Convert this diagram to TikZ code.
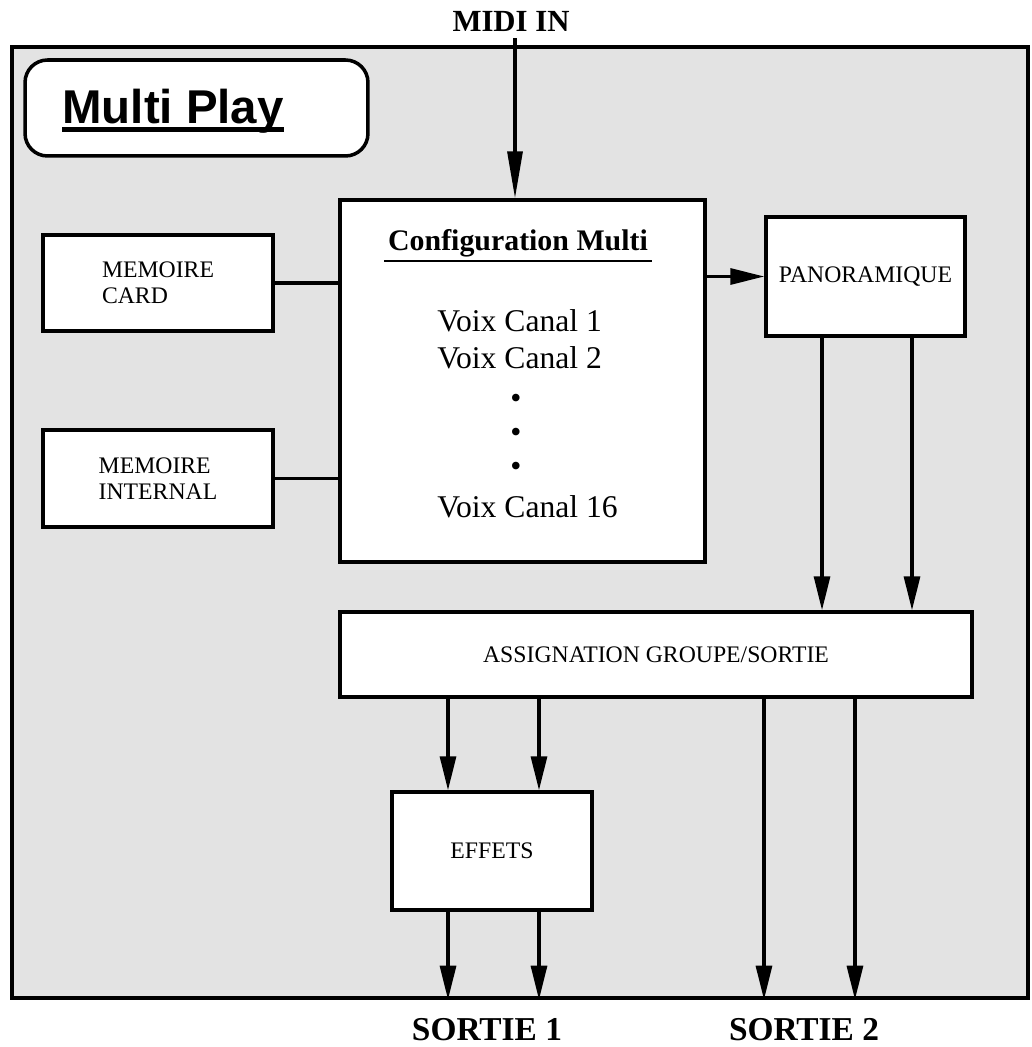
\documentclass[tikz,border=0pt]{standalone}
\usepackage{fontspec}
\setmainfont{Liberation Serif}
\newfontfamily\helv{Liberation Sans}
\usetikzlibrary{arrows.meta,shapes,positioning}

\begin{document}
\begin{tikzpicture}[x=0.02cm,y=-0.02cm,>={Triangle[length=0.68cm,width=0.32cm]}]

	\tikzstyle{rect}=[
		rectangle,
		line width=2pt,
		draw=black,
		fill=white,
		inner sep=0pt
	]
	\tikzstyle{post}=[->,line width=1.8pt]
	\tikzstyle{wire}=[line width=1.8pt]
	\tikzstyle{lbl}=[font=\fontsize{13.5}{14.8}\selectfont]
	\tikzstyle{big}=[font=\fontsize{18}{20}\selectfont, inner sep=0pt]

	\useasboundingbox (0,0) rectangle (1031,1047);

	% frame
	\node [rect, fill=black!11, minimum width=20.32cm, minimum height=19.02cm] (F) at (520,522.5) {};

	\node [rect, rounded corners=0.45cm, minimum width=6.86cm, minimum height=1.92cm] (MP) at (196.5,108) {};
	\node [anchor=base west, inner sep=0pt, font=\helv\bfseries\fontsize{27}{30}\selectfont] (T) at (62,124) {Multi Play};
	\draw [line width=2.3pt] ([yshift=-0.11cm]T.base west) -- ([yshift=-0.11cm]T.base east);

	\node [anchor=base, font=\bfseries\fontsize{17.5}{20}\selectfont] (MIDI) at (511,32) {MIDI IN};

	\node [rect, minimum width=7.3cm, minimum height=7.24cm] (CFG) at (522.5,381) {};
	\node [anchor=base, inner sep=0pt, font=\bfseries\fontsize{17}{20}\selectfont] (CT) at (518,251) {Configuration Multi};
	\draw [line width=1pt] ([yshift=-0.2cm,xshift=-2pt]CT.base west) -- ([yshift=-0.2cm,xshift=2pt]CT.base east);
	\node [big, anchor=base west] (V1) at (437,332) {Voix Canal 1};
	\node [big, anchor=base west] (V2) at (437,368) {Voix Canal 2};
	\foreach \y/\n in {401/1,435/2,469/3}
		\node [big] (D\n) at (516,\y) {\textbullet};
	\node [big, anchor=base west] (V16) at (437,517) {Voix Canal 16};

	\node [rect, lbl, align=left, minimum width=4.6cm, minimum height=1.92cm] (MC) at (158,283) {MEMOIRE\\CARD};
	\node [rect, lbl, align=left, minimum width=4.6cm, minimum height=1.94cm] (MI) at (158,478.5) {MEMOIRE\\INTERNAL};

	\node [rect, lbl, minimum width=3.98cm, minimum height=2.38cm] (PAN) at (865.5,276.5) {PANORAMIQUE};
	\node [rect, lbl, minimum width=12.64cm, minimum height=1.7cm] (ASG) at (656,654.5) {ASSIGNATION GROUPE/SORTIE};
	\node [rect, lbl, minimum width=4cm, minimum height=2.36cm] (EFF) at (492,851) {EFFETS};

	\node [anchor=base, font=\bfseries\fontsize{19}{22}\selectfont] (S1) at (487,1040) {SORTIE 1};
	\node [anchor=base, font=\bfseries\fontsize{19}{22}\selectfont] (S2) at (804,1040) {SORTIE 2};

	\coordinate (m) at ([xshift=0.08cm]MIDI.south);
	\coordinate (p1) at ([xshift=-0.87cm]PAN.south);
	\coordinate (p2) at ([xshift=0.93cm]PAN.south);
	\coordinate (e1) at ([xshift=-0.88cm]EFF.north);
	\coordinate (e2) at ([xshift=0.94cm]EFF.north);
	\coordinate (a1) at ([xshift=2.16cm]ASG.south);
	\coordinate (a2) at ([xshift=3.98cm]ASG.south);

	\draw [post, >={Triangle[length=0.94cm,width=0.3cm]}] (m) -- (m |- CFG.north);
	\draw [wire] (MC.east) -- (MC.east -| CFG.west);
	\draw [wire] (MI.east) -- (MI.east -| CFG.west);
	\draw [post] (PAN.west -| CFG.east) -- (PAN.west);

	\draw [post] (p1) -- (p1 |- ASG.north);
	\draw [post] (p2) -- (p2 |- ASG.north);

	\draw [post] (e1 |- ASG.south) -- (e1);
	\draw [post] (e2 |- ASG.south) -- (e2);
	\draw [post] (e1 |- EFF.south) -- (e1 |- F.south);
	\draw [post] (e2 |- EFF.south) -- (e2 |- F.south);

	\draw [post] (a1) -- (a1 |- F.south);
	\draw [post] (a2) -- (a2 |- F.south);

\end{tikzpicture}
\end{document}
